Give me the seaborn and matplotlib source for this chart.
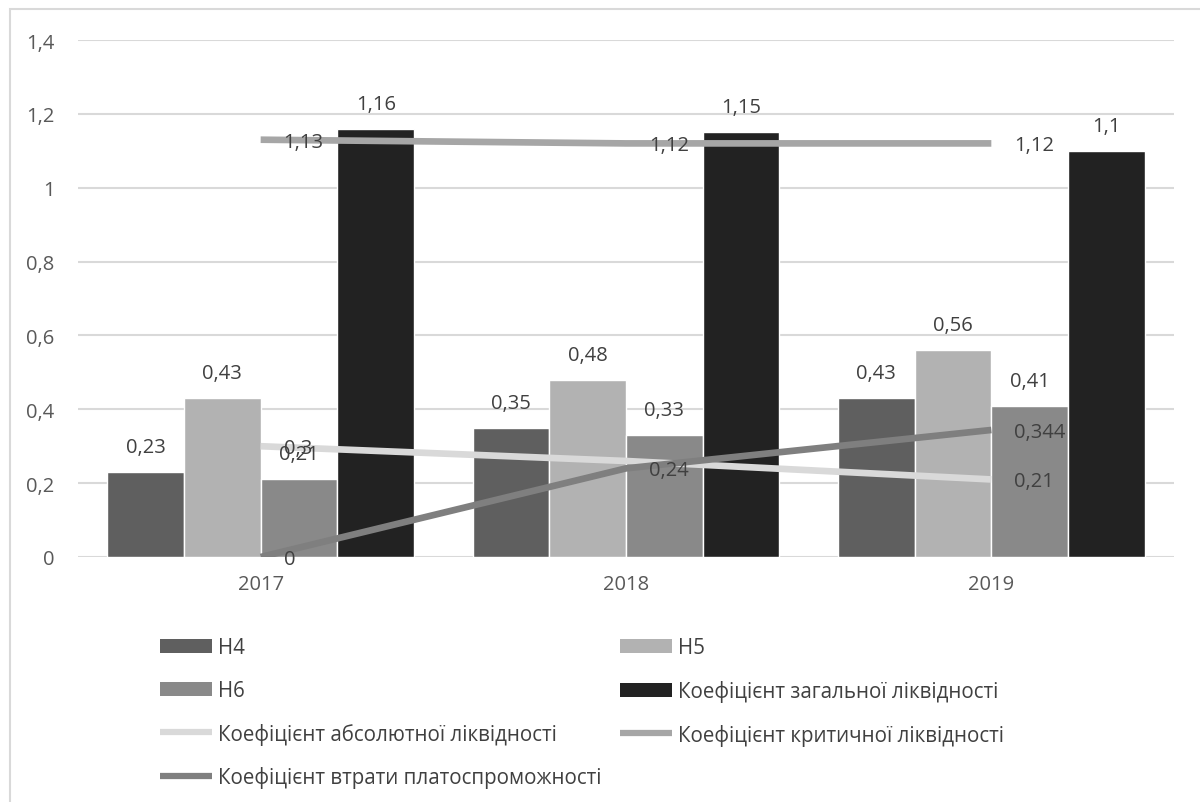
import pandas as pd
import matplotlib.pyplot as plt
import seaborn as sns
from matplotlib.patches import Patch, Rectangle
from matplotlib.lines import Line2D

years = ["2017", "2018", "2019"]

## bar series
bar_names = ["Н4", "Н5", "Н6", "Коефіцієнт загальної ліквідності"]
h4 = [0.23, 0.35, 0.43]
h5 = [0.43, 0.48, 0.56]
h6 = [0.21, 0.33, 0.41]
general = [1.16, 1.15, 1.1]
bar_colors = ["#5f5f5f", "#b2b2b2", "#898989", "#222222"]

## line series
line_names = ["Коефіцієнт абсолютної ліквідності",
              "Коефіцієнт критичної ліквідності",
              "Коефіцієнт втрати платоспроможності"]
absolute = [0.3, 0.26, 0.21]
critical = [1.13, 1.12, 1.12]
loss = [0, 0.24, 0.344]
line_colors = ["#d9d9d9", "#a6a6a6", "#7f7f7f"]
# which points of each line carry a label (the 2018 label of absolute is not shown)
line_label_show = [[True, False, True], [True, True, True], [True, True, True]]

y_ticks = [0, 0.2, 0.4, 0.6, 0.8, 1.0, 1.2, 1.4]

sns.set_theme(style="white")
plt.rcParams['font.family'] = ['Open Sans', 'DejaVu Sans']
text_col = "#404040"

bar_df = pd.DataFrame({
    "year": years * 4,
    "series": [n for n in bar_names for _ in years],
    "value": h4 + h5 + h6 + general,
})


def fmt(v):
    return f"{v:g}".replace(".", ",")


fig = plt.figure(figsize=(12, 8.03), dpi=100)
ax = fig.add_axes([78 / 1200, 1 - 558 / 803, 1096 / 1200, 517 / 803])

sns.barplot(data=bar_df, x="year", y="value", hue="series", palette=bar_colors,
            width=0.84, gap=0, saturation=1, legend=False, ax=ax, zorder=2)

# data labels above bars
for i, vals in enumerate([h4, h5, h6, general]):
    for j, v in enumerate(vals):
        xpos = j - 0.315 + i * 0.21
        ax.annotate(fmt(v), (xpos, v), xytext=(0, 25), textcoords="offset pixels",
                    ha="center", va="center", fontsize=14.5, color=text_col, zorder=5)

# lines at category centers
xs = list(range(len(years)))
for vals, col, show in zip([absolute, critical, loss], line_colors, line_label_show):
    ax.plot(xs, vals, color=col, lw=4.8, solid_capstyle="butt", zorder=3)
    for j, v in enumerate(vals):
        if show[j]:
            ax.annotate(fmt(v), (xs[j], v), xytext=(23, -2), textcoords="offset pixels",
                        ha="left", va="center", fontsize=14.5, color=text_col, zorder=5)

ax.set_xlim(-0.5, 2.5)
ax.set_ylim(0, 1.4)
ax.set_yticks(y_ticks)
ax.set_yticklabels([fmt(round(t, 1)) for t in y_ticks])
ax.set_xlabel("")
ax.set_ylabel("")
ax.tick_params(axis="both", length=0, labelsize=14.5, labelcolor="#595959")
ax.tick_params(axis="y", pad=17)
ax.tick_params(axis="x", pad=12)
ax.yaxis.grid(True, color="#d9d9d9", lw=1.5)
ax.set_axisbelow(True)
for s in ax.spines.values():
    s.set_visible(False)

# legend in two columns, filled row by row
h_bar = [Patch(facecolor=c, edgecolor="none") for c in bar_colors]
h_line = [Line2D([], [], color=c, lw=4.5, solid_capstyle="butt") for c in line_colors]
col1 = [(h_bar[0], bar_names[0]), (h_bar[2], bar_names[2]),
        (h_line[0], line_names[0]), (h_line[2], line_names[2])]
col2 = [(h_bar[1], bar_names[1]), (h_bar[3], bar_names[3]), (h_line[1], line_names[1])]
for items, x0 in [(col1, 160), (col2, 620)]:
    fig.legend([h for h, _ in items], [l for _, l in items], loc="upper left",
               bbox_to_anchor=(x0 / 1200, 1 - 638 / 803), frameon=False,
               fontsize=14.8, labelcolor=text_col, handlelength=2.55, handleheight=0.68,
               handletextpad=0.28, labelspacing=1.06, borderpad=0, borderaxespad=0)

# chart frame (only top and left edges fall inside the picture)
fig.patches.append(Rectangle((10 / 1200, -0.05), 1.2, 1 - 10 / 803 + 0.05,
                             transform=fig.transFigure, fill=False,
                             edgecolor="#d9d9d9", lw=1.5))

plt.savefig("out.png", dpi=100)
